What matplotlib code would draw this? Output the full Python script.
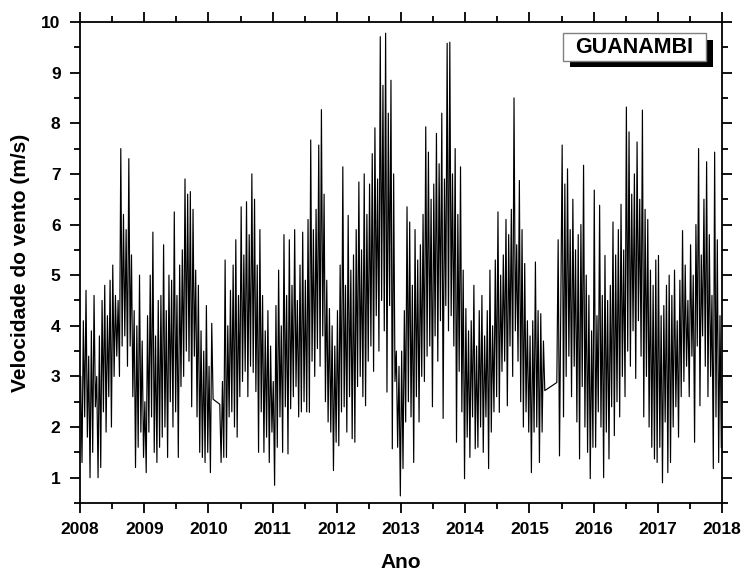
import numpy as np
import matplotlib
matplotlib.use("Agg")
import matplotlib.pyplot as plt
from matplotlib.patches import Rectangle
from matplotlib.ticker import MultipleLocator

# wind speed (m/s), 4 readings per month (Jan..Dec)
# None = missing data, the line is drawn straight across the gap
v2008 = [3.0, 1.3, 4.1, 2.2, 4.7, 1.8, 3.4, 1.0, 3.9, 1.5, 4.6, 2.4,
         3.0, 1.0, 3.8, 1.2, 4.5, 2.3, 4.8, 1.9, 4.2, 2.6, 4.9, 2.0,
         5.2, 3.0, 4.6, 3.4, 4.5, 3.0, 7.5, 3.6, 6.2, 3.8, 5.9, 3.2,
         7.3, 3.6, 5.4, 2.6, 4.3, 1.2, 4.0, 1.6, 5.0, 1.9, 3.7, 1.4]
v2009 = [2.5, 1.1, 4.2, 1.9, 5.0, 2.2, 5.85, 1.5, 3.8, 1.3, 4.5, 1.6,
         4.6, 1.8, 5.6, 2.0, 4.3, 1.4, 5.0, 2.5, 4.9, 2.0, 6.25, 2.3,
         4.6, 1.4, 5.2, 2.8, 5.5, 3.0, 6.9, 3.5, 6.6, 3.3, 6.65, 2.4,
         6.3, 3.4, 5.1, 2.2, 4.8, 1.5, 3.9, 1.4, 3.5, 1.3, 4.4, 1.5]
v2010 = [3.2, 1.1, 4.05, 2.55, None, None, None, None, 2.45, 1.3, 2.9, 1.4,
         5.3, 1.4, 4.0, 2.2, 4.7, 2.3, 5.2, 2.0, 5.7, 1.8, 4.6, 2.6,
         6.35, 2.9, 5.4, 3.1, 6.45, 2.6, 5.8, 3.2, 7.0, 3.08, 6.5, 2.7,
         5.2, 1.5, 5.9, 2.3, 4.6, 1.5, 3.9, 1.8, 4.3, 1.3, 3.6, 1.9]
v2011 = [2.9, 0.85, 4.4, 1.6, 5.1, 2.2, 4.0, 1.5, 5.8, 2.4, 4.6, 1.47,
         5.7, 2.36, 4.8, 2.6, 5.9, 2.8, 4.5, 2.2, 5.2, 2.3, 5.85, 2.5,
         4.9, 2.3, 6.1, 2.29, 7.67, 3.3, 5.9, 3.0, 6.3, 3.55, 7.57, 3.2,
         8.27, 3.8, 6.6, 2.5, 4.9, 2.1, 4.34, 1.9, 4.0, 1.14, 3.6, 1.7]
v2012 = [4.3, 1.63, 5.2, 2.3, 7.14, 2.4, 4.8, 1.9, 6.18, 2.6, 5.1, 1.77,
         5.4, 1.7, 5.9, 2.8, 6.84, 3.0, 5.5, 2.6, 7.0, 2.42, 6.2, 3.3,
         6.8, 3.6, 7.4, 3.1, 7.91, 4.2, 6.9, 3.5, 9.71, 4.5, 8.75, 3.9,
         9.78, 2.69, 8.2, 4.4, 8.85, 1.57, 7.0, 2.9, 3.5, 1.6, 3.2, 0.64]
v2013 = [3.5, 1.18, 4.3, 2.1, 6.35, 2.5, 6.05, 2.2, 4.8, 1.3, 5.9, 2.6,
         5.3, 2.1, 5.6, 3.0, 6.2, 2.9, 7.93, 3.4, 7.43, 3.6, 6.5, 2.4,
         6.8, 3.8, 7.8, 3.3, 7.2, 4.1, 8.2, 2.17, 6.9, 4.4, 9.58, 3.9,
         9.6, 4.2, 7.0, 3.6, 7.5, 1.7, 6.2, 3.1, 7.14, 2.3, 5.1, 0.98]
v2014 = [4.34, 1.8, 3.9, 1.4, 4.1, 2.2, 4.8, 1.57, 3.6, 1.6, 4.3, 2.0,
         4.6, 1.5, 3.8, 2.2, 4.3, 1.18, 5.1, 1.9, 4.0, 2.3, 5.3, 2.6,
         6.25, 2.29, 5.0, 3.1, 5.4, 3.3, 6.1, 2.42, 5.8, 3.6, 6.3, 3.0,
         8.5, 3.9, 5.6, 3.3, 6.87, 2.5, 5.9, 2.0, 5.23, 2.3, 4.1, 1.9]
v2015 = [3.8, 1.1, 4.1, 1.9, 5.26, 2.0, 4.3, 1.3, 4.24, 1.9, 3.7, 2.72,
         None, None, None, None, None, None, None, None, 2.88, 5.7, 1.43, 4.6,
         7.57, 2.2, 6.8, 3.0, 7.1, 3.4, 5.9, 2.6, 6.5, 3.2, 5.5, 2.1,
         5.8, 1.37, 6.0, 2.8, 7.17, 2.0, 5.0, 1.5, 4.6, 0.98, 3.9, 1.6]
v2016 = [6.68, 1.6, 4.2, 2.3, 6.38, 2.0, 4.6, 1.0, 5.39, 1.9, 4.5, 1.37,
         4.8, 2.4, 6.05, 1.83, 5.4, 2.5, 5.9, 2.2, 6.4, 3.0, 5.5, 2.6,
         8.32, 3.5, 7.83, 3.2, 6.6, 3.9, 7.0, 2.96, 7.63, 4.1, 6.5, 3.4,
         8.26, 2.2, 6.3, 3.0, 6.1, 2.0, 5.1, 1.6, 4.8, 1.37, 5.3, 1.3]
v2017 = [5.39, 1.6, 4.2, 0.9, 4.4, 2.1, 4.8, 1.1, 5.0, 1.3, 4.6, 2.0,
         5.1, 2.4, 4.1, 1.8, 4.9, 2.6, 5.88, 2.9, 5.2, 3.2, 4.5, 2.6,
         5.6, 3.4, 5.0, 1.7, 6.0, 3.6, 7.5, 2.42, 5.4, 3.8, 6.5, 3.2,
         7.24, 2.6, 5.8, 3.0, 4.6, 1.18, 7.43, 2.2, 5.7, 1.3, 4.2, 1.6]

years = list(range(2008, 2018))
series = [v2008, v2009, v2010, v2011, v2012, v2013, v2014, v2015, v2016, v2017]

# date of each reading = year + fraction of the year
dates, vals = [], []
for yr, vals_year in zip(years, series):
    n = len(vals_year)
    for i, v in enumerate(vals_year):
        if v is None:
            continue
        dates.append(yr + (i + 0.5) / n)
        vals.append(v)
dates = np.array(dates)
vals = np.array(vals)

W, H = 743, 571
fig = plt.figure(figsize=(W / 100, H / 100), dpi=100)
ax = fig.add_axes([80 / W, 1 - 503 / H, 642 / W, 481 / H])

ax.plot(dates, vals, color="black", lw=0.85)

ax.set_xlim(2008, 2018)
ax.set_ylim(0.5, 10)
ax.xaxis.set_minor_locator(MultipleLocator(0.5))
ax.yaxis.set_minor_locator(MultipleLocator(0.5))

tick_font = "Liberation Sans"
ax.tick_params(which="both", direction="out", top=True, right=True, width=1.3)
ax.tick_params(which="major", length=7, pad=7)
ax.tick_params(which="minor", length=4)
ax.tick_params(labelright=False, labeltop=False)
ax.set_xticks(range(2008, 2019))
ax.set_xticklabels([str(y) for y in range(2008, 2019)], family=tick_font,
                   fontweight="bold", fontsize=12.5)
ax.set_yticks(range(1, 11))
ax.set_yticklabels([str(v) for v in range(1, 11)], family=tick_font,
                   fontweight="bold", fontsize=12.5)
for sp in ax.spines.values():
    sp.set_linewidth(1.3)

ax.set_xlabel("Ano", family="Liberation Sans", fontweight="bold", fontsize=15, labelpad=11)
ax.set_ylabel("Velocidade do vento (m/s)", family="Liberation Sans",
              fontweight="bold", fontsize=15, labelpad=8)

# station label box with drop shadow
def px_rect(x0, y0, x1, y1, **kw):
    return Rectangle((x0 / W, 1 - y1 / H), (x1 - x0) / W, (y1 - y0) / H,
                     transform=fig.transFigure, **kw)

fig.patches.append(px_rect(570, 40, 713, 67, facecolor="black", edgecolor="none", zorder=5))
fig.patches.append(px_rect(563, 33, 706, 61, facecolor="white", edgecolor="#808080",
                           lw=1.0, zorder=6))
fig.text(634.5 / W, 1 - 47.5 / H, "GUANAMBI", family="Liberation Sans", fontweight="bold",
         fontsize=15.5, ha="center", va="center", zorder=7)

fig.savefig("out.png", dpi=100)
